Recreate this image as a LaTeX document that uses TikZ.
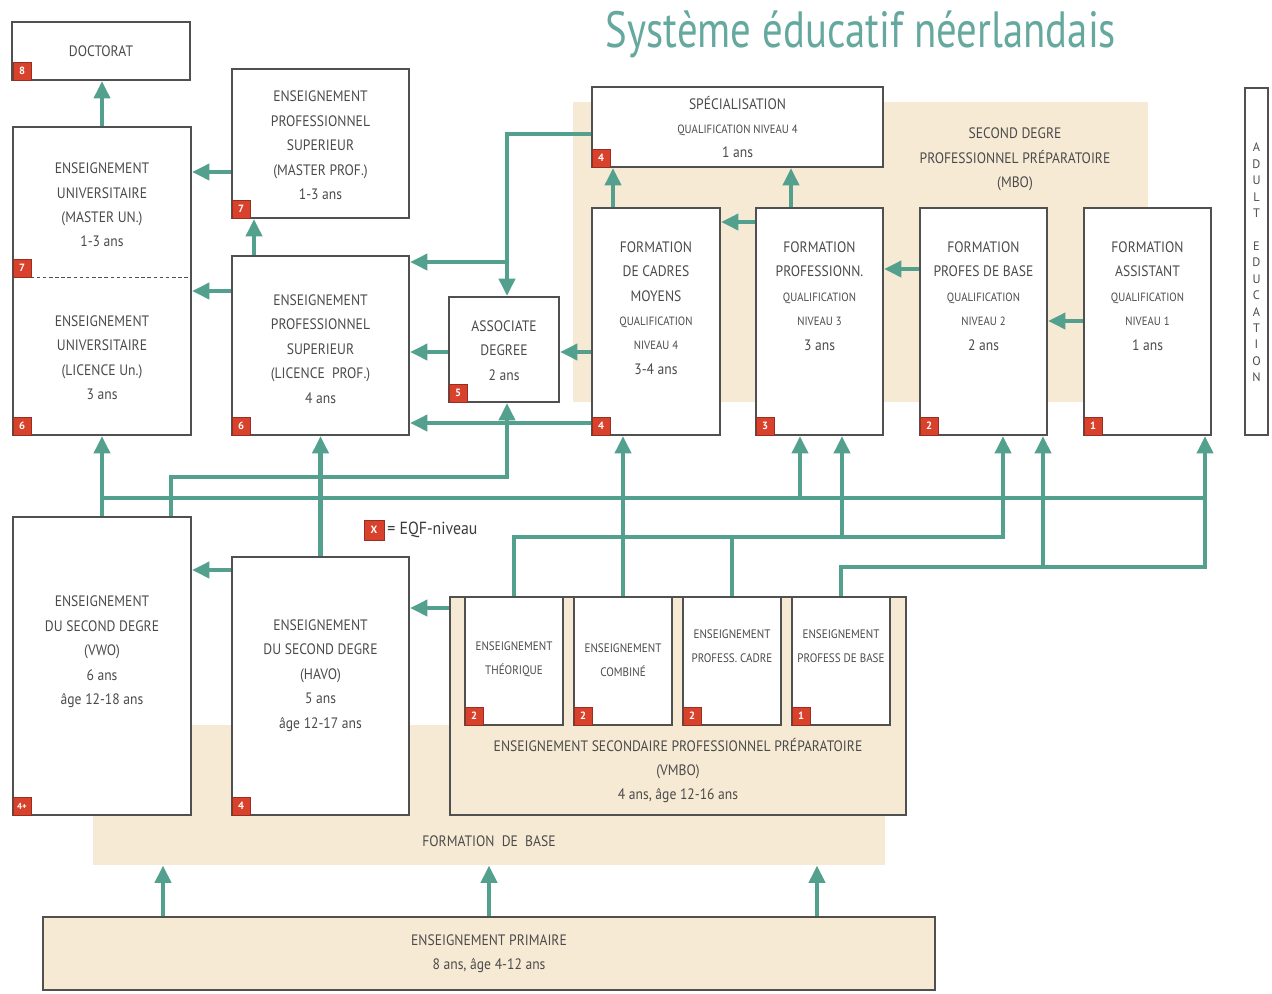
\documentclass[tikz,border=0pt]{standalone}
\usepackage{fontspec}
\setmainfont{PT Sans}
\newfontfamily\cond[FakeStretch=0.9]{PT Sans}
\newfontfamily\titlefont[FakeStretch=0.8]{PT Sans}
\usetikzlibrary{arrows.meta}
\definecolor{tealA}{RGB}{84,160,142}
\definecolor{titleteal}{RGB}{100,168,158}
\definecolor{beige}{RGB}{247,234,212}
\definecolor{bordergray}{RGB}{80,80,80}
\definecolor{textgray}{RGB}{75,75,75}
\definecolor{badgered}{RGB}{216,66,44}
\newcommand{\sm}{\fontsize{6.8}{13.9}\selectfont}
\tikzset{
  bx/.style 2 args={minimum width=#1*0.02cm, minimum height=#2*0.02cm},
  box/.style={draw=bordergray, line width=1pt, fill=white, inner sep=0pt},
  bg/.style={fill=beige, draw=none, inner sep=0pt},
  badge/.style={fill=badgered, draw=badgered!70!black, line width=0.4pt, minimum size=0.36cm, inner sep=0pt, text=white, font=\fontsize{6}{6}\selectfont\bfseries},
  txt/.style={align=center, text=textgray, font=\cond\fontsize{8.6}{13.9}\selectfont, inner sep=0pt},
  stxt/.style={align=center, text=textgray, font=\cond\fontsize{7}{13.6}\selectfont, inner sep=0pt},
  ln/.style={draw=tealA, line width=2.6pt},
  arr/.style={draw=tealA, line width=2.6pt, -{Triangle[length=10pt,width=9pt]}},
}
\begin{document}
\begin{tikzpicture}[x=0.02cm,y=-0.02cm]
\useasboundingbox (0,0) rectangle (1272,994);
\fill[white] (0,0) rectangle (1272,994);

% title
\node[anchor=base, text=titleteal, font=\titlefont\fontsize{29}{30}\selectfont, inner sep=0pt] (title) at (861,47) {Système éducatif néerlandais};

% backgrounds
\node[bg, bx={575}{300}] (mbobg) at (860.5,252) {};
\node[bg, bx={792}{140}] (fdb) at (489,795) {};
\node[txt] (mbolab) at (1015,159.5) {SECOND DEGRE\\PROFESSIONNEL PRÉPARATOIRE\\(MBO)};
\node[txt] (fdblab) at (489,841) {FORMATION\ \ DE\ \ BASE};

% boxes
\node[box, bx={178}{58}] (doc) at (101,51) {};
\node[box, bx={178}{308}] (uni) at (102,281) {};
\draw[bordergray, line width=0.5pt, dash pattern=on 2pt off 1.5pt] (uni.west |- 0,277) -- (uni.east |- 0,277);
\node[box, bx={177}{149}] (mprof) at (320.5,143.5) {};
\node[box, bx={177}{179}] (lprof) at (320.5,345.5) {};
\node[box, bx={110}{105}] (ad) at (504,349.5) {};
\node[box, bx={291}{80}] (spec) at (737.5,127) {};
\node[box, bx={128}{227}] (cm) at (656,321.5) {};
\node[box, bx={127}{227}] (prof) at (819.5,321.5) {};
\node[box, bx={127}{227}] (base) at (983.5,321.5) {};
\node[box, bx={127}{227}] (asst) at (1147.5,321.5) {};
\node[box, bx={23}{347}] (adult) at (1256.5,261.5) {};
\node[box, bx={178}{298}] (vwo) at (102,666) {};
\node[box, bx={177}{258}] (havo) at (320.5,686) {};
\node[box, fill=beige, bx={456}{218}] (vmbo) at (678,706) {};
\node[box, bx={98}{128}] (v1) at (514,661) {};
\node[box, bx={98}{128}] (v2) at (623,661) {};
\node[box, bx={98}{128}] (v3) at (732,661) {};
\node[box, bx={98}{128}] (v4) at (841,661) {};
\node[box, fill=beige, bx={892}{73}] (prim) at (489,953.5) {};

% texts
\node[txt] (doct) at (101,51) {DOCTORAT};
\node[txt] (unit1) at (102,205) {ENSEIGNEMENT\\UNIVERSITAIRE\\(MASTER UN.)\\1-3 ans};
\node[txt] (unit2) at (102,357.5) {ENSEIGNEMENT\\UNIVERSITAIRE\\(LICENCE Un.)\\3 ans};
\node[txt] (mproft) at (320.5,145.5) {ENSEIGNEMENT\\PROFESSIONNEL\\SUPERIEUR\\(MASTER PROF.)\\1-3 ans};
\node[txt] (lproft) at (320.5,349) {ENSEIGNEMENT\\PROFESSIONNEL\\SUPERIEUR\\(LICENCE\ \ PROF.)\\4 ans};
\node[txt] (adt) at (504,350.5) {ASSOCIATE\\DEGREE\\2 ans};
\node[txt] (spect) at (737.5,127) {SPÉCIALISATION\\{\sm QUALIFICATION NIVEAU 4}\\1 ans};
\node[txt] (cmt) at (656,308) {FORMATION\\DE CADRES\\MOYENS\\{\sm QUALIFICATION}\\{\sm NIVEAU 4}\\3-4 ans};
\node[txt] (proft) at (819.5,296) {FORMATION\\PROFESSIONN.\\{\sm QUALIFICATION}\\{\sm NIVEAU 3}\\3 ans};
\node[txt] (baset) at (983.5,296) {FORMATION\\PROFES DE BASE\\{\sm QUALIFICATION}\\{\sm NIVEAU 2}\\2 ans};
\node[txt] (asstt) at (1147.5,296) {FORMATION\\ASSISTANT\\{\sm QUALIFICATION}\\{\sm NIVEAU 1}\\1 ans};
\node[align=center, text=textgray, font=\fontsize{7}{9.35}\selectfont, inner sep=0pt] (adultt) at (1256.5,262.5) {A\\D\\U\\L\\T\\[9.35pt]E\\D\\U\\C\\A\\T\\I\\O\\N};
\node[txt] (vwot) at (102,652) {ENSEIGNEMENT\\DU SECOND DEGRE\\(VWO)\\6 ans\\âge 12-18 ans};
\node[txt] (havot) at (320.5,675.5) {ENSEIGNEMENT\\DU SECOND DEGRE\\(HAVO)\\5 ans\\âge 12-17 ans};
\node[stxt] (v1t) at (514,659) {ENSEIGNEMENT\\THÉORIQUE};
\node[stxt] (v2t) at (623,660.5) {ENSEIGNEMENT\\COMBINÉ};
\node[stxt] (v3t) at (732,646) {ENSEIGNEMENT\\PROFESS. CADRE};
\node[stxt] (v4t) at (841,646) {ENSEIGNEMENT\\PROFESS DE BASE};
\node[txt] (vmbot) at (678,770.5) {ENSEIGNEMENT SECONDAIRE PROFESSIONNEL PRÉPARATOIRE\\(VMBO)\\4 ans, âge 12-16 ans};
\node[txt] (primt) at (489,953.5) {ENSEIGNEMENT PRIMAIRE\\8 ans, âge 4-12 ans};

% badges
\node[badge] (bdoc) at (22,71) {8};
\node[badge] (buni7) at (22,268) {7};
\node[badge] (buni6) at (22,426) {6};
\node[badge] (bmprof) at (241,209) {7};
\node[badge] (blprof) at (241,426) {6};
\node[badge] (bad) at (458,393) {5};
\node[badge] (bspec) at (601,158) {4};
\node[badge] (bcm) at (601,426) {4};
\node[badge] (bprof) at (765,426) {3};
\node[badge] (bbase) at (929,426) {2};
\node[badge] (basst) at (1093,426) {1};
\node[badge, font=\fontsize{5}{5}\selectfont\bfseries] (bvwo) at (22,806) {4+};
\node[badge] (bhavo) at (241,806) {4};
\node[badge] (bv1) at (474,716) {2};
\node[badge] (bv2) at (583,716) {2};
\node[badge] (bv3) at (692,716) {2};
\node[badge] (bv4) at (801,716) {1};
% legend
\node[badge, minimum size=0.4cm] (blegend) at (374,530) {X};
\node[anchor=west, text=textgray!80!black, font=\cond\fontsize{10}{11}\selectfont, inner sep=0pt] (legend) at (387,530) {= EQF-niveau};

% connectors
\coordinate (j1) at (507,262);
\draw[arr] (uni.north) -- (uni.north |- doc.south);
\draw[arr] (mprof.west |- 0,172) -- (uni.east |- 0,172);
\draw[arr] (lprof.north -| 254,0) -- (mprof.south -| 254,0);
\draw[arr] (lprof.west |- 0,291) -- (uni.east |- 0,291);
\draw[arr] (spec.west |- 0,134) -| (ad.north -| 507,0);
\draw[arr] (j1) -- (lprof.east |- j1);
\draw[arr] (ad.west |- 0,352) -- (lprof.east |- 0,352);
\draw[arr] (cm.west |- 0,352) -- (ad.east |- 0,352);
\draw[arr] (cm.west |- 0,423) -- (lprof.east |- 0,423);
\draw[arr] (vwo.north -| 171,0) -- (171,477) -- (507,477) -- (ad.south -| 507,0);
\draw[ln] (102,498) -- (1205,498);
\draw[arr] (vwo.north) -- (uni.south);
\draw[arr] (havo.north) -- (lprof.south);
\draw[arr] (800,498) -- (prof.south -| 800,0);
\draw[arr] (v4.north) -- (841,567) -- (1205,567) -- (asst.south -| 1205,0);
\draw[arr] (1043,567) -- (base.south -| 1043,0);
\draw[arr] (v1.north) -- (514,537) -- (1003,537) -- (base.south -| 1003,0);
\draw[ln] (v3.north) -- (732,537);
\draw[arr] (842,537) -- (prof.south -| 842,0);
\draw[arr] (v2.north) -- (cm.south -| v2.north);
\draw[arr] (vmbo.west |- 0,608) -- (havo.east |- 0,608);
\draw[arr] (havo.west |- 0,570) -- (vwo.east |- 0,570);
\draw[arr] (cm.north -| 613,0) -- (spec.south -| 613,0);
\draw[arr] (prof.north -| 791,0) -- (spec.south -| 791,0);
\draw[arr] (prof.west |- 0,222) -- (cm.east |- 0,222);
\draw[arr] (base.west |- 0,269) -- (prof.east |- 0,269);
\draw[arr] (asst.west |- 0,321) -- (base.east |- 0,321);
\draw[arr] (prim.north -| 163,0) -- (fdb.south -| 163,0);
\draw[arr] (prim.north -| 489,0) -- (fdb.south -| 489,0);
\draw[arr] (prim.north -| 817,0) -- (fdb.south -| 817,0);
\end{tikzpicture}
\end{document}
